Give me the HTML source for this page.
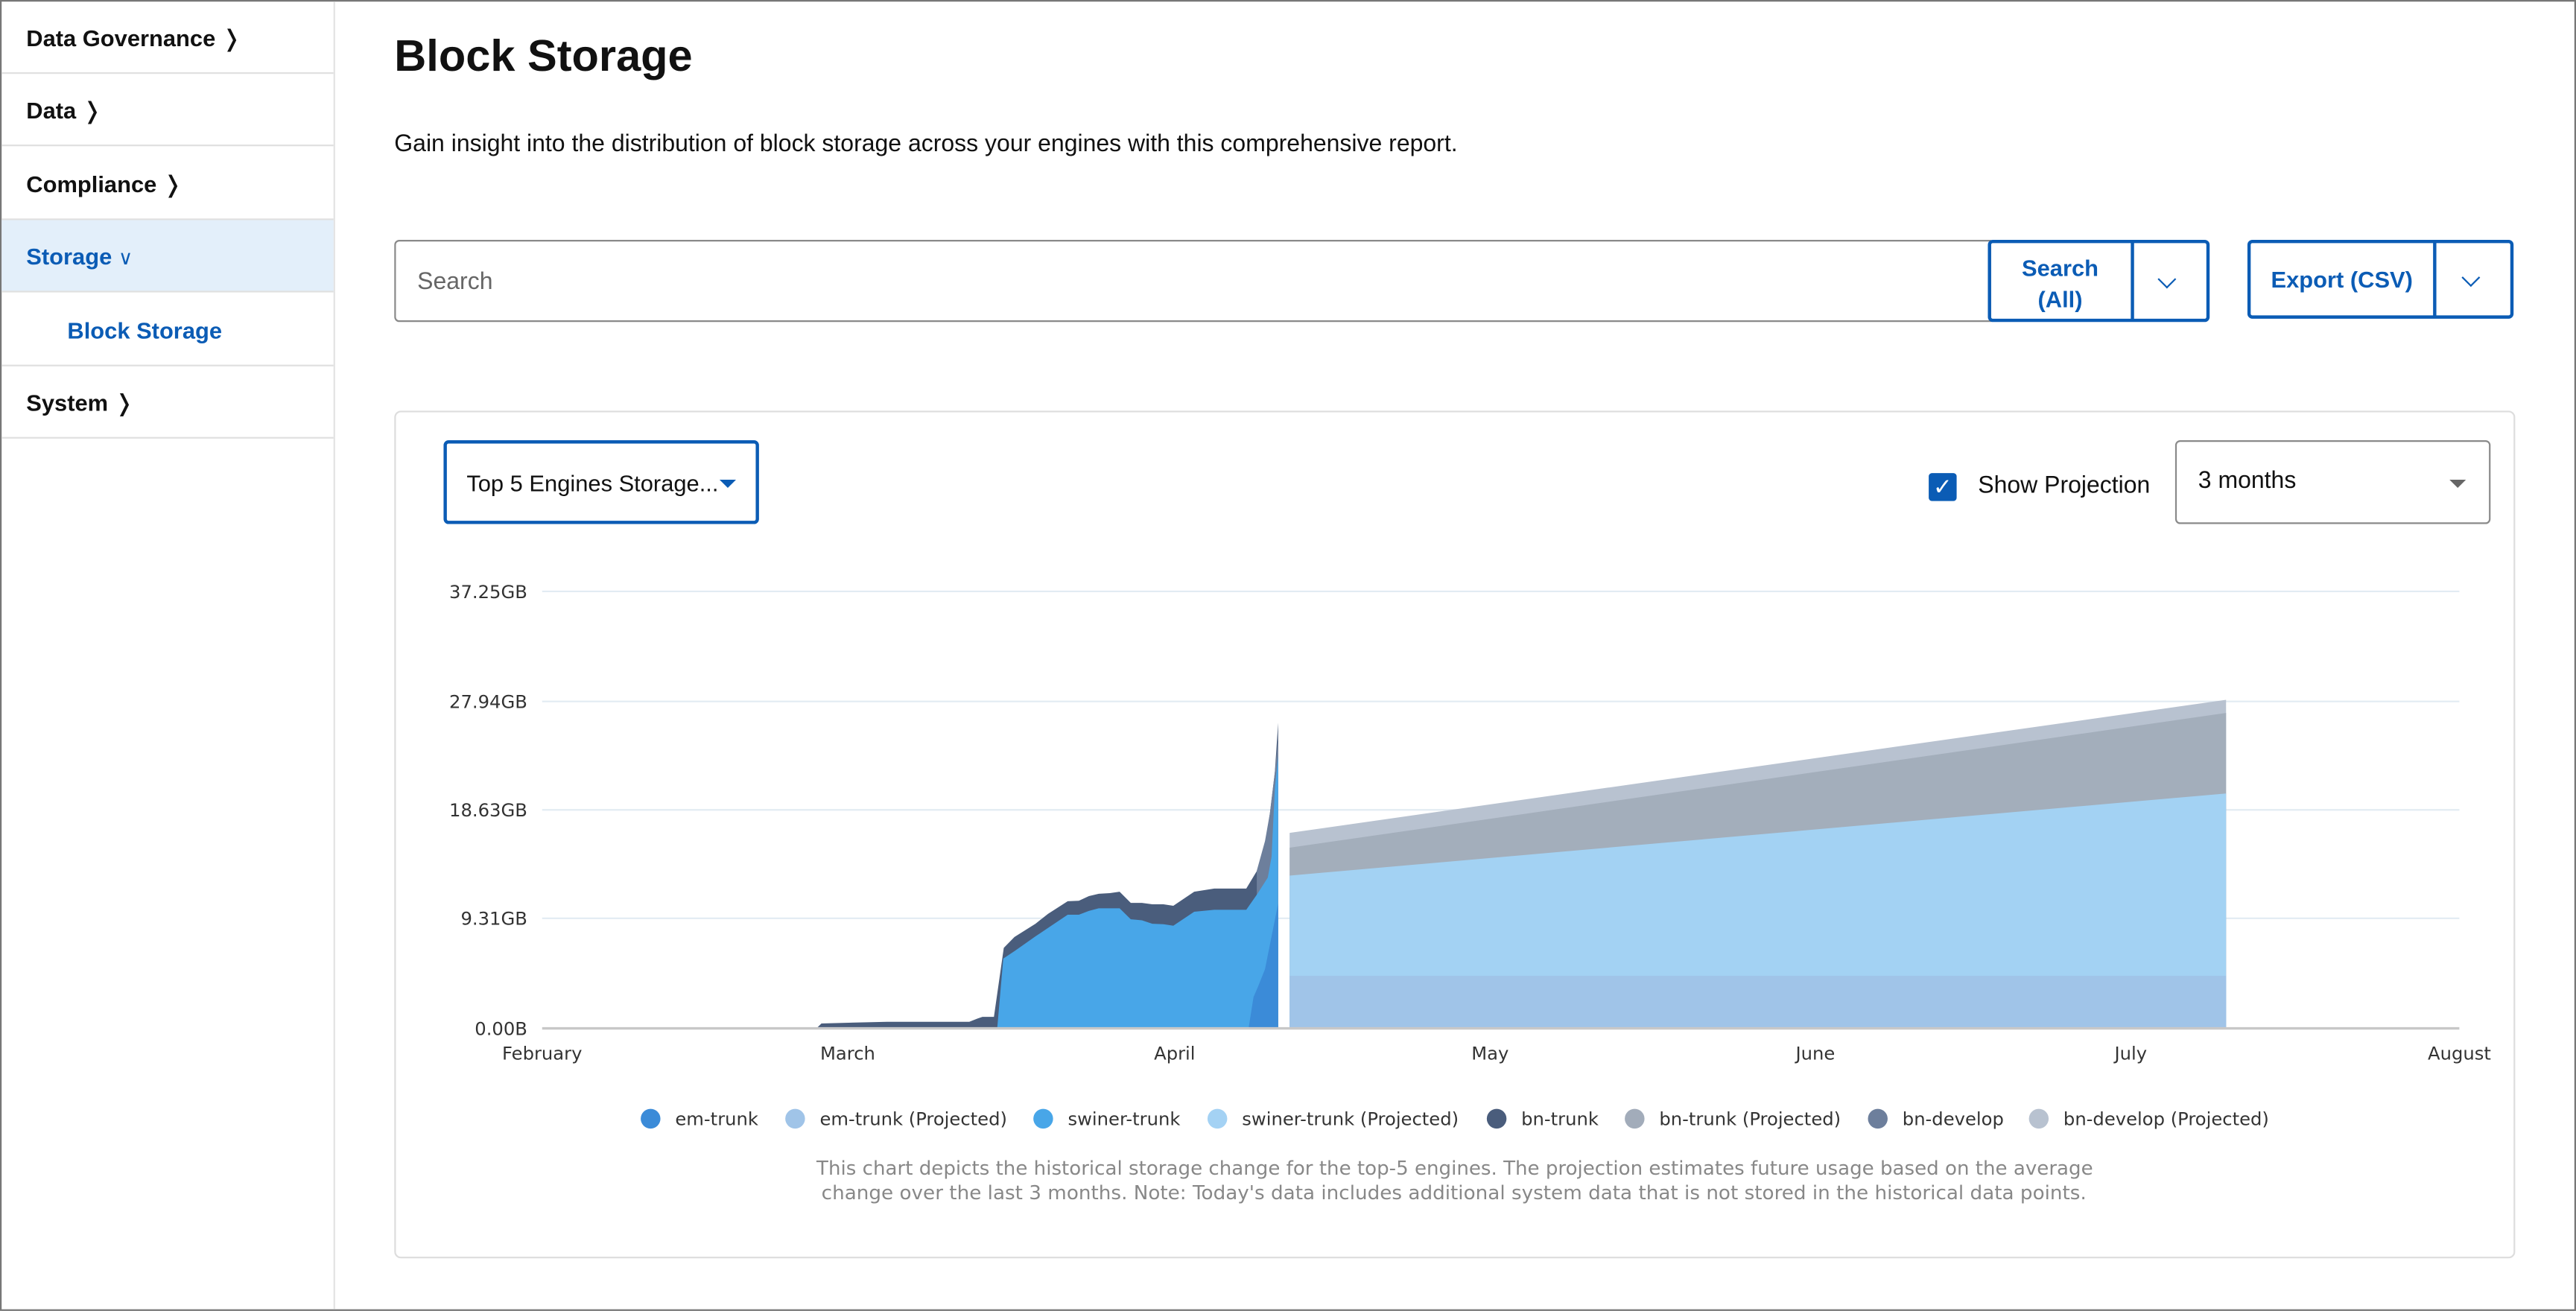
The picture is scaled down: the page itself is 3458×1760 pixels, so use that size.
<!DOCTYPE html>
<html><head><meta charset="utf-8"><style>
html,body{margin:0;padding:0;background:#fff;}
body{width:3458px;height:1760px;overflow:hidden;}
#w{position:absolute;left:0;top:0;width:1568px;height:798px;transform:scale(2.20536);transform-origin:0 0;font-family:"Liberation Sans",sans-serif;color:#111;}
.abs{position:absolute;}
.nav{position:absolute;left:1px;width:202px;height:44px;border-bottom:1px solid #e0e0e0;box-sizing:border-box;font-size:14px;font-weight:bold;line-height:44px;padding-left:15px;}
.btn{position:absolute;border:2px solid #0b5cb5;border-radius:3px;box-sizing:border-box;color:#0b5cb5;font-weight:bold;font-size:14px;}
.chev{position:absolute;width:7px;height:7px;border-right:1.6px solid #0b5cb5;border-bottom:1.6px solid #0b5cb5;transform:rotate(45deg);}
</style></head><body><div id="w">
<div class="abs" style="left:0;top:0;width:1566px;height:796px;border:1px solid #777;"></div>
<div class="abs" style="left:203px;top:1px;width:1px;height:796px;background:#e3e3e3;"></div>
<div class="nav" style="top:1px">Data Governance <span style="font-weight:normal">&#x276D;</span></div>
<div class="nav" style="top:45px">Data <span style="font-weight:normal">&#x276D;</span></div>
<div class="nav" style="top:90px">Compliance <span style="font-weight:normal">&#x276D;</span></div>
<div class="nav" style="top:134px;background:#e3effa;color:#0b5cb5;">Storage <span style="font-weight:normal;font-size:12px">&#x2228;</span></div>
<div class="nav" style="top:179px;color:#0b5cb5;padding-left:40px;">Block Storage</div>
<div class="nav" style="top:223px">System <span style="font-weight:normal">&#x276D;</span></div>

<div class="abs" style="left:240px;top:19px;font-size:27px;font-weight:bold;">Block Storage</div>
<div class="abs" style="left:240px;top:80px;font-size:14.5px;">Gain insight into the distribution of block storage across your engines with this comprehensive report.</div>

<div class="abs" style="left:240px;top:146px;width:972px;height:50px;border:1px solid #8a8a8a;border-radius:3px 0 0 3px;box-sizing:border-box;"></div>
<div class="abs" style="left:254px;top:164px;font-size:14.5px;color:#666;">Search</div>
<div class="btn" style="left:1210px;top:146px;width:135px;height:50px;"></div>
<div class="abs" style="left:1297px;top:147px;width:2px;height:48px;background:#0b5cb5;"></div>
<div class="abs" style="left:1212px;top:154px;width:84px;text-align:center;color:#0b5cb5;font-weight:bold;font-size:14px;line-height:19px;">Search<br>(All)</div>
<div class="chev" style="left:1315px;top:166px;"></div>
<div class="btn" style="left:1368px;top:146px;width:162px;height:48px;"></div>
<div class="abs" style="left:1481px;top:147px;width:2px;height:46px;background:#0b5cb5;"></div>
<div class="abs" style="left:1370px;top:162px;width:111px;text-align:center;color:#0b5cb5;font-weight:bold;font-size:14px;">Export (CSV)</div>
<div class="chev" style="left:1500px;top:165px;"></div>

<div class="abs" style="left:240px;top:250px;width:1291px;height:516px;border:1px solid #ddd;border-radius:4px;box-sizing:border-box;"></div>
<div class="btn" style="left:270px;top:268px;width:192px;height:51px;"></div>
<div class="abs" style="left:284px;top:286px;font-size:14px;">Top 5 Engines Storage...</div>
<div class="abs" style="left:438px;top:292px;width:0;height:0;border-left:5px solid transparent;border-right:5px solid transparent;border-top:5px solid #0b5cb5;"></div>
<div class="abs" style="left:1174px;top:288px;width:17px;height:17px;background:#0b5cb5;border-radius:2px;color:#fff;font-size:14px;line-height:17px;text-align:center;">&#x2713;</div>
<div class="abs" style="left:1204px;top:288px;font-size:14.5px;">Show Projection</div>
<div class="abs" style="left:1324px;top:268px;width:192px;height:51px;border:1px solid #8a8a8a;border-radius:3px;box-sizing:border-box;"></div>
<div class="abs" style="left:1338px;top:285px;font-size:14.5px;">3 months</div>
<div class="abs" style="left:1491px;top:292px;width:0;height:0;border-left:5px solid transparent;border-right:5px solid transparent;border-top:5px solid #666;"></div>

<svg class="abs" style="left:0;top:0" width="1568" height="798" viewBox="0 0 1568 798">
<g stroke="#e2ebf3" stroke-width="1">
<line x1="330" y1="360" x2="1497" y2="360"/><line x1="330" y1="427" x2="1497" y2="427"/><line x1="330" y1="493" x2="1497" y2="493"/><line x1="330" y1="559" x2="1497" y2="559"/>
</g>
<polygon points="785,507 1355,426 1355,626 785,626" fill="#b8c2d0"/>
<polygon points="785,516 1355,434 1355,626 785,626" fill="#a3aebb"/>
<polygon points="785,533 1355,483 1355,626 785,626" fill="#a3d2f3"/>
<polygon points="785,594 1355,594 1355,626 785,626" fill="#a0c4e8"/>
<polygon points="497,626 500,623 540,622 590,622 595,620 598,619 605,619 611,577 617.5,570.4 630.3,562.3 637.9,556.3 649.9,548.6 656.7,548.3 662.8,545.5 668.8,544.1 675.6,543.7 681.5,542.8 688.3,549.6 695.1,549.6 701.4,550.5 708.2,550.5 714.2,551.4 726.9,542.8 739.1,540.9 758.6,540.9 765.4,529.6 770,515 773,495 776,470 778,440 778,626" fill="#4a5d7c"/>
<polygon points="765,530 770,512 773,495 776,470 778,450 778,626 765,626" fill="#6d7f9c"/>
<polygon points="607,626 610.7,583.5 617.5,579 630.3,570 649.9,556.8 656.7,556.8 662.8,554.5 668.8,552.9 681.5,552.9 688.3,559.6 695.1,560.2 701.4,562.3 708.2,562.6 714.2,563.5 726.9,555 739.1,553.8 758.6,553.8 765.4,544.1 771.7,534.2 774,521.5 776,480 778,460 778,626" fill="#48a6e8"/>
<polygon points="760,626 763,607 766,600 770,590 774,570 778,550 778,626" fill="#3b8bd8"/>
<line x1="330" y1="626" x2="1497" y2="626" stroke="#c8c8c8" stroke-width="1.5"/>
<g font-family="DejaVu Sans,sans-serif" font-size="11" fill="#333" text-anchor="end">
<text x="321" y="364">37.25GB</text><text x="321" y="431">27.94GB</text><text x="321" y="497">18.63GB</text><text x="321" y="563">9.31GB</text><text x="321" y="630">0.00B</text>
</g>
<g font-family="DejaVu Sans,sans-serif" font-size="11" fill="#333" text-anchor="middle">
<text x="330" y="645">February</text><text x="516" y="645">March</text><text x="715" y="645">April</text><text x="907" y="645">May</text><text x="1105" y="645">June</text><text x="1297" y="645">July</text><text x="1497" y="645">August</text>
</g>
<g font-family="DejaVu Sans,sans-serif" font-size="11" fill="#333">
<circle cx="396" cy="681" r="6" fill="#3b8bd8"/><text x="411" y="685">em-trunk</text>
<circle cx="484" cy="681" r="6" fill="#a0c4e8"/><text x="499" y="685">em-trunk (Projected)</text>
<circle cx="635" cy="681" r="6" fill="#48a6e8"/><text x="650" y="685">swiner-trunk</text>
<circle cx="741" cy="681" r="6" fill="#a4d2f4"/><text x="756" y="685">swiner-trunk (Projected)</text>
<circle cx="911" cy="681" r="6" fill="#4a5d7c"/><text x="926" y="685">bn-trunk</text>
<circle cx="995" cy="681" r="6" fill="#a2acba"/><text x="1010" y="685">bn-trunk (Projected)</text>
<circle cx="1143" cy="681" r="6" fill="#6d7f9c"/><text x="1158" y="685">bn-develop</text>
<circle cx="1241" cy="681" r="6" fill="#b8c2d0"/><text x="1256" y="685">bn-develop (Projected)</text>
</g>
<g font-family="DejaVu Sans,sans-serif" font-size="11.5" fill="#888">
<text x="497" y="715" textLength="777" lengthAdjust="spacingAndGlyphs">This chart depicts the historical storage change for the top-5 engines. The projection estimates future usage based on the average</text>
<text x="500" y="730" textLength="770" lengthAdjust="spacingAndGlyphs">change over the last 3 months. Note: Today's data includes additional system data that is not stored in the historical data points.</text>
</g>
</svg>
</div></body></html>
